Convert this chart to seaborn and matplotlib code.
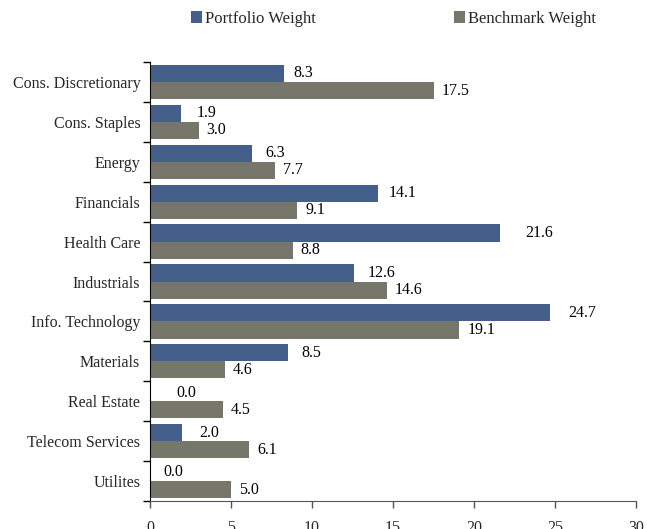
import pandas as pd
import matplotlib.pyplot as plt
import seaborn as sns

sectors = ['Cons. Discretionary', 'Cons. Staples', 'Energy', 'Financials',
           'Health Care', 'Industrials', 'Info. Technology', 'Materials',
           'Real Estate', 'Telecom Services', 'Utilites']
portfolio = [8.3, 1.9, 6.3, 14.1, 21.6, 12.6, 24.7, 8.5, 0.0, 2.0, 0.0]
benchmark = [17.5, 3.0, 7.7, 9.1, 8.8, 14.6, 19.1, 4.6, 4.5, 6.1, 5.0]
series = ['Portfolio Weight', 'Benchmark Weight']
colors = ['#44608a', '#76766a']

# label offsets (points) as placed in the original
pad_portfolio = [6.5, 11.5, 9.4, 7.2, 18, 9.4, 13, 10, 18.7, 12.2, 9.4]
pad_benchmark = [5.8] * len(sectors)

df = pd.DataFrame({'sector': sectors * 2,
                   'weight': portfolio + benchmark,
                   'series': [series[0]] * len(sectors) + [series[1]] * len(sectors)})

sns.set_style('white')
plt.rcParams['font.family'] = ['Liberation Serif', 'DejaVu Serif']
plt.rcParams['font.size'] = 11.5

fig = plt.figure(figsize=(6.47, 5.29), dpi=100)
ax = fig.add_axes([150 / 647, 1 - 501 / 529, 486 / 647, 439 / 529])

sns.barplot(data=df, x='weight', y='sector', hue='series', hue_order=series,
            palette=colors, orient='h', width=0.86, saturation=1,
            linewidth=0, ax=ax)

for c, pads in zip(ax.containers, [pad_portfolio, pad_benchmark]):
    for bar, v, p in zip(c, c.datavalues, pads):
        ax.annotate('%.1f' % v, (bar.get_x() + bar.get_width(), bar.get_y() + bar.get_height() / 2),
                    xytext=(p, 0), textcoords='offset points',
                    ha='left', va='center', fontsize=11.5, color='black')

ax.set_xlim(0, 30)
ax.set_xticks(range(0, 31, 5))
ax.set_ylim(len(sectors) - 0.5, -0.5)
ax.set_xlabel('')
ax.set_ylabel('')

ax.tick_params(axis='y', which='major', length=0, pad=7)
ax.set_yticks([i + 0.5 for i in range(-1, len(sectors))], minor=True)
ax.tick_params(axis='y', which='minor', length=5, width=1, color='black', direction='out', left=True)
ax.tick_params(axis='x', length=5, width=1, color='#555555', direction='out', bottom=True, pad=8.5)

for s in ['top', 'right']:
    ax.spines[s].set_visible(False)
ax.spines['left'].set_color('black')
ax.spines['bottom'].set_color('#555555')

ax.legend(loc='center left', bbox_to_anchor=(41 / 486, 1 + 43 / 439), ncol=2,
          frameon=False, handlelength=0.66, handleheight=0.72, handletextpad=0.18,
          columnspacing=8.3, borderpad=0, borderaxespad=0, fontsize=12)

fig.savefig('out.png', dpi=100)
